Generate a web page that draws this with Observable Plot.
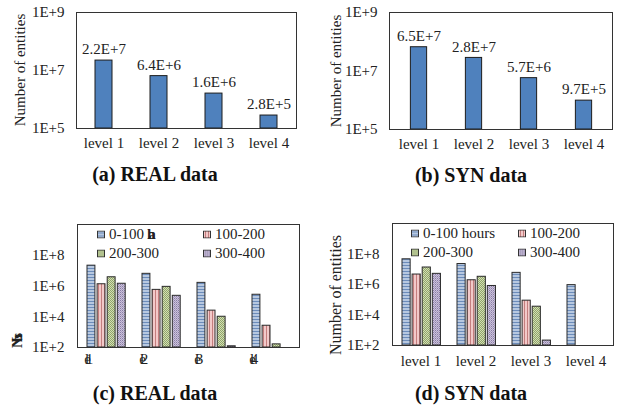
<!DOCTYPE html>
<html><head><meta charset="utf-8">
<script src="https://cdn.jsdelivr.net/npm/d3@7"></script>
<script src="https://cdn.jsdelivr.net/npm/@observablehq/plot@0.6"></script>
<style>
body{margin:0;background:#fff;}
#root{position:relative;width:618px;height:406px;overflow:hidden;font-family:"Liberation Serif","Times New Roman",serif;color:#222;}
.panel{position:absolute;}
.cap{position:absolute;font-family:"Liberation Serif",serif;font-weight:bold;font-size:20px;transform:translate(-50%,-50%);white-space:nowrap;color:#111;}
.ylab{position:absolute;font-size:15px;transform:translate(-50%,-50%) rotate(-90deg);white-space:nowrap;}
.leg{position:absolute;font-size:15px;white-space:nowrap;display:flex;align-items:center;transform:translateY(-50%);line-height:1;}
.leg svg{display:block;margin-right:4px;}
</style></head>
<body>
<svg width="0" height="0" style="position:absolute">
<defs>
<pattern id="pBlue" width="4" height="3" patternUnits="userSpaceOnUse"><rect width="4" height="3" fill="#b7c8e0"/><rect y="2" width="4" height="1" fill="#6c8cba"/></pattern>
<pattern id="pPink" width="3" height="4" patternUnits="userSpaceOnUse"><rect width="3" height="4" fill="#f2c9c9"/><rect x="2" width="1" height="4" fill="#c47e7e"/></pattern>
<pattern id="pGreen" width="2" height="2" patternUnits="userSpaceOnUse"><rect width="2" height="2" fill="#d3ddb4"/><rect width="1" height="1" fill="#90a66a"/><rect x="1" y="1" width="1" height="1" fill="#90a66a"/></pattern>
<pattern id="pPurple" width="2" height="2" patternUnits="userSpaceOnUse"><rect width="2" height="2" fill="#cbc3da"/><rect width="1" height="1" fill="#8a7ca6"/><rect x="1" y="1" width="1" height="1" fill="#a89cc0"/></pattern>
</defs>
</svg>
<div id="root"></div>
<script>
// ---- data ----
const levels = ["level 1", "level 2", "level 3", "level 4"];
const realTotals = [2.2e7, 6.4e6, 1.6e6, 2.8e5];
const synTotals = [6.5e7, 2.8e7, 5.7e6, 9.7e5];
const bins = ["0-100 hours", "100-200", "200-300", "300-400"];
const realBin0 = [2.1e7, 6.2e6, 1.6e6, 2.7e5];
const realBin1 = [1.3e6, 5.6e5, 2.5e4, 2.6e3];
const realBin2 = [3.7e6, 8.8e5, 1.0e4, 1.6e2];
const realBin3 = [1.4e6, 2.3e5, 1.2e2, null];
const synBin0 = [4.5e7, 2.2e7, 5.8e6, 9.1e5];
const synBin1 = [4.5e6, 1.9e6, 8.7e4, null];
const synBin2 = [1.3e7, 3.2e6, 3.5e4, null];
const synBin3 = [5.0e6, 8.0e5, 2.1e2, null];
const ticksTop = [1e5, 1e7, 1e9];
const ticksBottom = [1e2, 1e4, 1e6, 1e8];

const root = document.getElementById("root");
const patterns = ["url(#pBlue)", "url(#pPink)", "url(#pGreen)", "url(#pPurple)"];
const expFmt = d => "1E+" + Math.round(Math.log10(d));
const valFmt = v => v.toExponential(1).toUpperCase();
const baseStyle = {fontFamily: "'Liberation Serif', 'Times New Roman', serif", fontSize: "15px", color: "#222", background: "transparent", overflow: "visible"};

function place(el, left, top) {
  const d = document.createElement("div");
  d.className = "panel";
  d.style.left = left + "px"; d.style.top = top + "px";
  d.appendChild(el);
  root.appendChild(d);
}
function addText(cls, text, x, y, extra) {
  const d = document.createElement("div");
  d.className = cls;
  d.style.left = x + "px"; d.style.top = y + "px";
  if (typeof text === "string") d.textContent = text; else d.appendChild(text);
  if (extra) Object.assign(d.style, extra);
  root.appendChild(d);
  return d;
}

function simplePanel(totals, m) {
  const rows = levels.map((l, i) => ({level: l, value: totals[i]}));
  const W = 309, H = 155;
  const bw = (W - m.left - m.right) / levels.length;
  const inset = (bw - m.barW) / 2;
  return Plot.plot({
    width: W, height: H,
    marginLeft: m.left, marginRight: m.right, marginTop: m.top, marginBottom: m.bottom,
    style: baseStyle,
    x: {domain: levels, padding: 0, tickSize: 0, tickPadding: 9, label: null},
    y: {type: "log", domain: [1e5, 1e9], ticks: ticksTop, tickFormat: expFmt, tickSize: 0, tickPadding: 12, label: null},
    marks: [
      Plot.barY(rows, {x: "level", y1: 1e5, y2: "value", fill: "#4f81bd", stroke: "#1c1c1c", strokeWidth: 1, insetLeft: inset, insetRight: inset}),
      Plot.text(rows, {x: "level", y: "value", text: d => valFmt(d.value), dy: -11, fontSize: 15, fill: "#222"}),
      Plot.frame({stroke: "#333"})
    ]
  });
}

function groupedPanel(binArrays, m, garbled) {
  const W = 309, H = 175;
  const bw = (W - m.left - m.right) / levels.length;
  const barW = 8.4, step = 10.1, off = 9;
  const marks = binArrays.map((arr, k) => {
    const rows = levels.map((l, i) => ({level: l, value: arr[i]})).filter(d => d.value != null);
    const il = off + k * step;
    return Plot.barY(rows, {x: "level", y1: 1e2, y2: "value", fill: patterns[k], stroke: "#2a2a2a", strokeWidth: 1, insetLeft: il, insetRight: bw - il - barW});
  });
  marks.push(Plot.frame({stroke: "#333"}));
  if (garbled) {
    marks.push(Plot.text(levels, {x: d => d, text: d => "le" + d.slice(-1), frameAnchor: "bottom", dy: 16, dx: -21, textAnchor: "start", fontSize: 15, fill: "#222"}));
  }
  return Plot.plot({
    width: W, height: H,
    marginLeft: m.left, marginRight: m.right, marginTop: m.top, marginBottom: m.bottom,
    style: baseStyle,
    x: garbled ? {domain: levels, padding: 0, axis: null} : {domain: levels, padding: 0, tickSize: 0, tickPadding: 10, label: null},
    y: {type: "log", domain: [1e2, 1e10], ticks: ticksBottom, tickFormat: expFmt, tickSize: 0, tickPadding: 13, label: null},
    marks
  });
}

// (a)
place(simplePanel(realTotals, {left: 76, right: 13, top: 12, bottom: 27, barW: 17}), 0, 0);
addText("ylab", "Number of entities", 20, 70);
addText("cap", "(a) REAL data", 155, 174);
// (b)
place(simplePanel(synTotals, {left: 80, right: 6, top: 12, bottom: 26, barW: 17}), 309, 0);
addText("ylab", "Number of entities", 336, 71);
addText("cap", "(b) SYN data", 471, 175);
// (c)
const pc = groupedPanel([realBin0, realBin1, realBin2, realBin3], {left: 77, right: 10, top: 24, bottom: 28}, true);
pc.querySelectorAll("text").forEach(t => { if (/^le\d$/.test(t.textContent)) t.style.letterSpacing = "-5px"; });
place(pc, 0, 200);
addText("ylab", "Nths", 17, 343, {letterSpacing: "-5px", fontWeight: "bold"});
addText("cap", "(c) REAL data", 155, 393);
// (d)
place(groupedPanel([synBin0, synBin1, synBin2, synBin3], {left: 83, right: 5, top: 23, bottom: 30}, false), 309, 200);
addText("ylab", "Number of entities", 336, 295, {fontSize: "16px"});
addText("cap", "(d) SYN data", 471, 393);

// legends
function legendItem(k, label, x, y, garbledTail) {
  const wrap = document.createElement("span");
  wrap.style.display = "flex"; wrap.style.alignItems = "center";
  wrap.innerHTML = `<svg width="8" height="8"><rect x="0.5" y="0.5" width="7" height="7" fill="${patterns[k]}" stroke="#333"/></svg>`;
  const s = document.createElement("span");
  s.textContent = label;
  wrap.appendChild(s);
  if (garbledTail) {
    const g = document.createElement("span");
    g.textContent = garbledTail;
    g.style.letterSpacing = "-7px"; g.style.fontWeight = "bold"; g.style.marginLeft = "3px";
    wrap.appendChild(g);
  }
  addText("leg", wrap, x, y);
}
legendItem(0, "0-100", 97, 234, "ha");
legendItem(1, bins[1], 203, 234);
legendItem(2, bins[2], 97, 253);
legendItem(3, bins[3], 203, 253);
legendItem(0, bins[0], 411, 233);
legendItem(1, bins[1], 518, 233);
legendItem(2, bins[2], 411, 252);
legendItem(3, bins[3], 518, 252);
</script>
</body></html>
